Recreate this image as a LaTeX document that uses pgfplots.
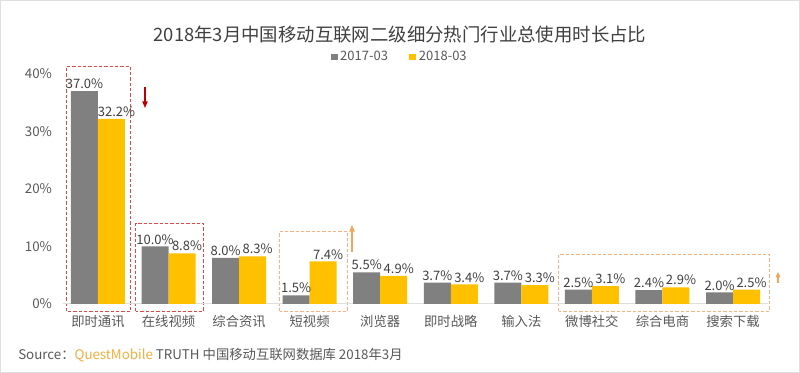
\documentclass[border=0pt]{standalone}
\usepackage{pgfplots}
\pgfplotsset{compat=1.18}
\usepackage{fontspec}
\setmainfont{Noto Sans CJK SC}
\usetikzlibrary{arrows.meta}
\definecolor{cgray}{HTML}{808080}
\definecolor{cyellow}{HTML}{FFC000}
\definecolor{ctext}{HTML}{404040}
\definecolor{ctick}{HTML}{595959}
\definecolor{cred}{HTML}{C00000}
\definecolor{cboxred}{HTML}{E04848}
\definecolor{corange}{HTML}{F4B183}
\definecolor{carrow}{HTML}{F2A65A}
\definecolor{cquest}{HTML}{F0B040}
\begin{document}
\begin{tikzpicture}[x=0.75pt,y=0.75pt]
\useasboundingbox (0,0) rectangle (800,373);
\fill[white] (0,0) rectangle (800,373);
\draw[gray!25,line width=0.75pt] (0.5,0.5) rectangle (799.5,372.5);
\draw[color=cboxred, line width=1pt, dash pattern=on 2.5pt off 1.5pt] (66.5,61.5) rectangle (130.5,306.5) (135.5,61.5) rectangle (203.5,149.5);
\draw[color=corange, line width=1pt, dash pattern=on 2.5pt off 1.5pt] (279.5,61.5) rectangle (347.5,141.5) (558.5,61.5) rectangle (769.5,118.5);
\draw[cred, line width=0.8pt, -{Triangle[length=5pt,width=4pt]}] (145,286) -- (145,265);
\draw[carrow, line width=0.8pt, -{Triangle[length=5pt,width=4pt]}] (352,121) -- (352,148);
\draw[carrow, line width=0.8pt, -{Triangle[length=4pt,width=3.5pt]}] (778,90) -- (778,101);
\node[font=\fontsize{13.8}{16}\selectfont, text=ctext] at (400,338) {2018年3月中国移动互联网二级细分热门行业总使用时长占比};
\node[anchor=west, font=\fontsize{10}{12}\selectfont, text=ctick, inner sep=0pt] at (18,18) {Source：\textcolor{cquest}{QuestMobile} TRUTH 中国移动互联网数据库 2018年3月};
\begin{axis}[at={(47.025pt,51.75pt)}, anchor=south west, scale only axis,
  width=529.2pt, height=172.5pt,
  ybar=0pt, bar width=20.25pt,
  xmin=-0.5, xmax=9.5, ymin=0, ymax=40,
  xtick={0,...,9},
  xticklabels={即时通讯,在线视频,综合资讯,短视频,浏览器,即时战略,输入法,微博社交,综合电商,搜索下载},
  ytick={0,10,20,30,40},
  yticklabel={\pgfmathprintnumber{\tick}\%},
  /pgf/number format/assume math mode=true,
  axis x line*=bottom, axis y line*=left,
  x axis line style={draw=gray!25, line width=0.75pt},
  y axis line style={draw=none},
  major tick length=0pt,
  tick label style={font=\fontsize{10}{12}\selectfont, text=ctick},
  xticklabel style={yshift=-5pt},
  yticklabel style={xshift=-4.5pt},
  nodes near coords={\pgfmathprintnumber[fixed,fixed zerofill,precision=1]{\pgfplotspointmeta}\%},
  every node near coord/.append style={font=\fontsize{9.75}{11}\selectfont, text=ctext, inner sep=1.5pt},
  legend style={at={(0.478,1.074)}, anchor=center, draw=none, fill=none,
    legend columns=2, font=\fontsize{9.75}{11}\selectfont, text=ctick,
    /tikz/every even column/.append style={column sep=14pt}},
  legend image code/.code={\fill[#1] (0pt,-2.6pt) rectangle (5.2pt,2.6pt);},
]
\addplot[fill=cgray, draw=none] coordinates {(0,37.0) (1,10.0) (2,8.0) (3,1.5) (4,5.5) (5,3.7) (6,3.7) (7,2.5) (8,2.4) (9,2.0)};
\addplot[fill=cyellow, draw=none, every node near coord/.append style={xshift=3.75pt}] coordinates {(0,32.2) (1,8.8) (2,8.3) (3,7.4) (4,4.9) (5,3.4) (6,3.3) (7,3.1) (8,2.9) (9,2.5)};
\legend{2017-03,2018-03}
\end{axis}
\end{tikzpicture}
\end{document}
